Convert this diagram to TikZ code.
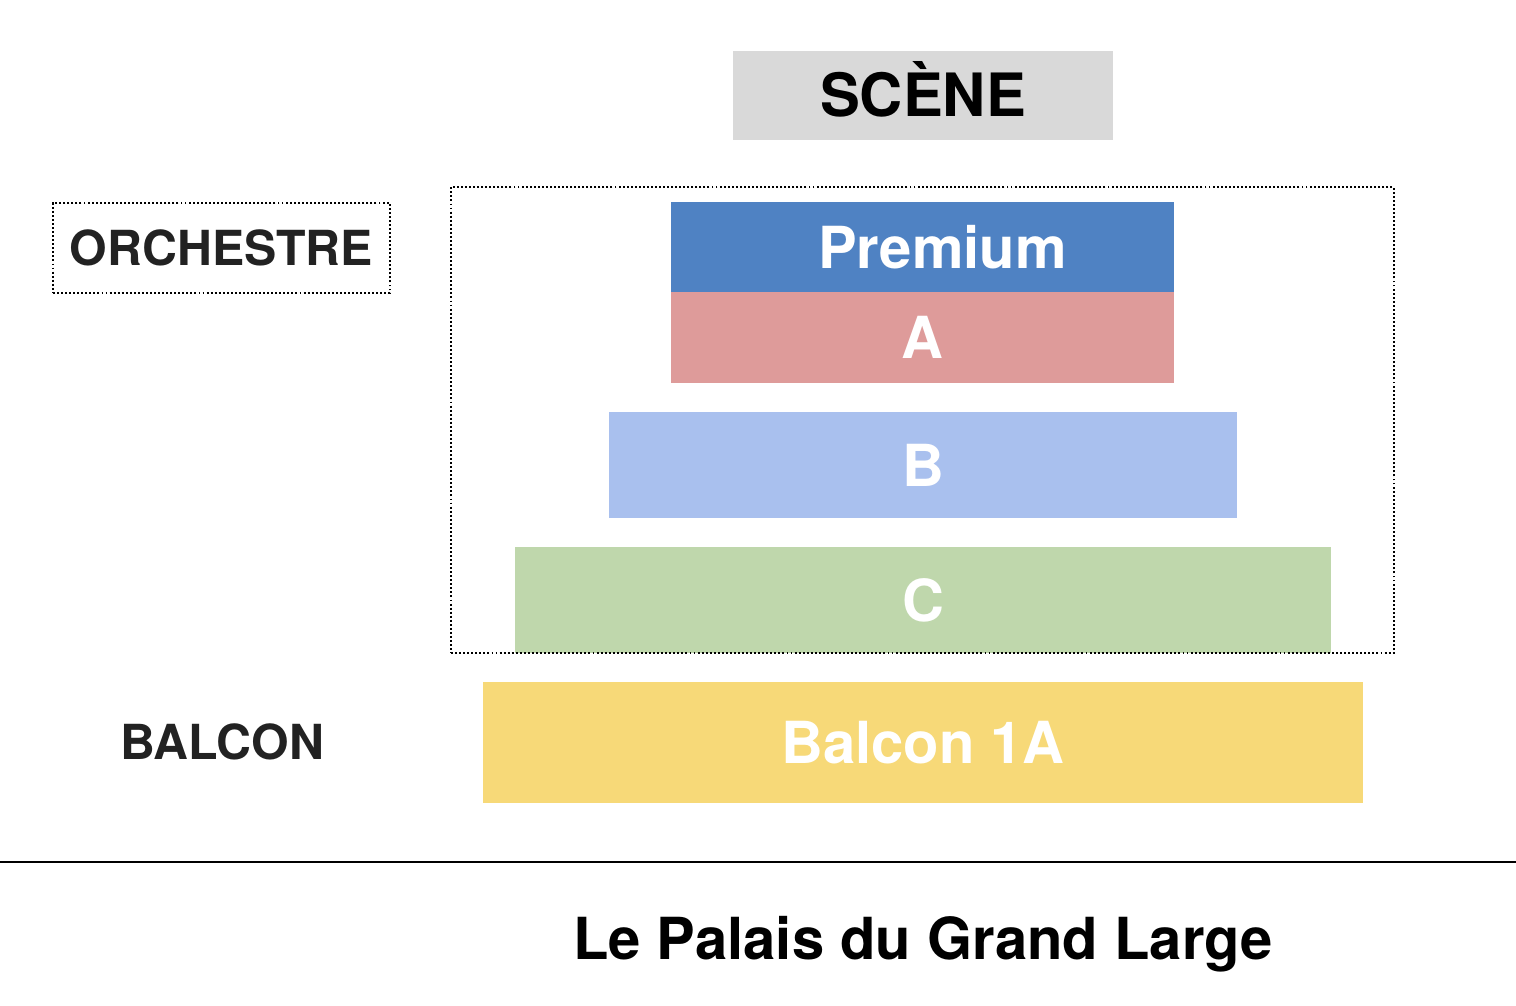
\documentclass[tikz,border=0pt]{standalone}
\usepackage{fontspec}
\setmainfont{TeX Gyre Heros}
\definecolor{scenegray}{HTML}{D9D9D9}
\definecolor{premiumblue}{HTML}{4F82C3}
\definecolor{zonea}{HTML}{DE9B9A}
\definecolor{zoneb}{HTML}{A9C0EE}
\definecolor{zonec}{HTML}{BFD7AC}
\definecolor{balconyellow}{HTML}{F7D978}
\definecolor{labelgray}{HTML}{222222}
\tikzset{zone/.style={rectangle,inner sep=0pt,text=white,font=\fontsize{33}{36}\selectfont\bfseries}}
\tikzset{side/.style={rectangle,inner sep=0pt,text=labelgray,font=\fontsize{27.5}{30}\selectfont\bfseries}}
\tikzset{dots/.style={draw=black,line width=1.1pt,dash pattern=on 1.1pt off 1.2pt}}

\begin{document}
\begin{tikzpicture}[x=0.02cm,y=-0.02cm]
		\useasboundingbox (0,0) rectangle (1516,1006);
		% stage
		\node[zone,fill=scenegray,text=black,font=\fontsize{34}{36}\selectfont\bfseries,text height=0.86cm,minimum width=7.6cm,minimum height=1.78cm] at (923,95.5) (scene) {SCÈNE};
		% orchestra zones
		\node[zone,fill=premiumblue,minimum width=10.06cm,minimum height=1.8cm] at (922.5,247) (premium) {\hspace*{0.8cm}Premium};
		\node[zone,fill=zonea,minimum width=10.06cm,minimum height=1.82cm] at (922.5,337.5) (a) {A};
		\node[zone,fill=zoneb,minimum width=12.56cm,minimum height=2.12cm] at (923,465) (b) {B};
		\node[zone,fill=zonec,minimum width=16.32cm,minimum height=2.12cm] at (923,600) (c) {C};
		\node[dots,rectangle,inner sep=0pt,minimum width=18.86cm,minimum height=9.32cm] at (922.5,420) (orchestra) {};
		\node[side,dots,minimum width=6.74cm,minimum height=1.8cm] at (221.5,248) (orchestre) {ORCHESTRE};
		% balcony
		\node[zone,fill=balconyellow,minimum width=17.6cm,minimum height=2.42cm] at (923,742.5) (balcon1a) {Balcon 1A};
		\node[side] at (222,742) (balcon) {BALCON};
		% footer
		\coordinate (left) at (0,862);
		\coordinate (right) at (1516,862);
		\draw[line width=1.1pt] (left) -- (right);
		\node[zone,text=black,text depth=0pt] at (923,938) (title) {Le Palais du Grand Large};
		\end{tikzpicture}
\end{document}
